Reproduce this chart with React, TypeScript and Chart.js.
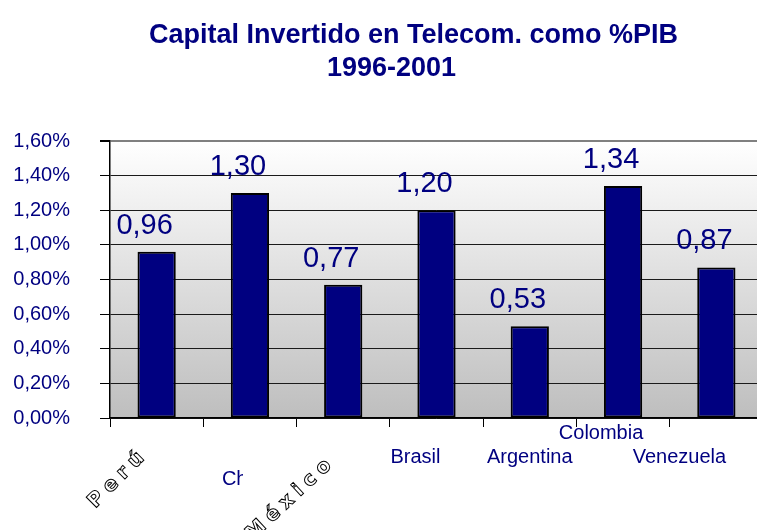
import React, { useEffect, useRef } from "react";
import { Chart, registerables } from "chart.js";

Chart.register(...registerables);

const categories = ["Perú", "Chile", "México", "Brasil", "Argentina", "Colombia", "Venezuela"];
const values = [0.96, 1.30, 0.77, 1.20, 0.53, 1.34, 0.87];
const titleLines = ["Capital Invertido en Telecom. como %PIB", "1996-2001"];
const yMin = 0;
const yMax = 1.6;
const yStep = 0.2;

const NAVY = "#000080";
const FONT = '"Liberation Sans", Arial, sans-serif';

// styling for category labels (offsets relative to category center / axis line)
const labelStyles = [
  { mode: "outline", dx: -38, dy: 60, rot: -45 },
  { mode: "clip", dx: -28, dy: 67, clip: 21 },
  { mode: "outline", dx: -52, dy: 80, rot: -43 },
  { mode: "plain", dx: -21, dy: 45 },
  { mode: "plain", dx: 0, dy: 45 },
  { mode: "plain", dx: -22, dy: 21 },
  { mode: "plain", dx: -37, dy: 45 },
];

const titleStyles = [
  { dx: -23, y: 43 },
  { dx: -45, y: 76 },
];

const fmtPct = (v: number) => v.toFixed(2).replace(".", ",") + "%";
const fmtVal = (v: number) => v.toFixed(2).replace(".", ",");

const bgPlugin = {
  id: "plotBg",
  beforeDraw(chart: any) {
    const { ctx, chartArea: a } = chart;
    const g = ctx.createLinearGradient(0, a.top, 0, a.bottom);
    g.addColorStop(0, "#ffffff");
    g.addColorStop(1, "#bebebe");
    ctx.save();
    ctx.fillStyle = g;
    ctx.fillRect(a.left, a.top, a.right - a.left, a.bottom - a.top);
    ctx.restore();
  },
};

const textPlugin = {
  id: "texts",
  afterDraw(chart: any) {
    const { ctx, chartArea: a } = chart;
    const xs = chart.scales.x;
    const ys = chart.scales.y;
    const mid = (a.left + a.right) / 2;
    ctx.save();
    // title
    ctx.fillStyle = NAVY;
    ctx.font = `bold 27px ${FONT}`;
    ctx.textAlign = "center";
    ctx.textBaseline = "alphabetic";
    titleLines.forEach((t, i) => {
      ctx.fillText(t, mid + titleStyles[i].dx, titleStyles[i].y);
    });
    // data labels
    ctx.font = `29px ${FONT}`;
    const meta = chart.getDatasetMeta(0);
    meta.data.forEach((bar: any, i: number) => {
      ctx.fillText(fmtVal(values[i]), bar.x - 12, bar.y - 18);
    });
    // category labels
    categories.forEach((c, i) => {
      const s: any = labelStyles[i];
      const cx = xs.getPixelForValue(i) + s.dx;
      const cy = ys.bottom + s.dy;
      ctx.save();
      if (s.mode === "outline") {
        ctx.translate(cx, cy);
        ctx.rotate((s.rot * Math.PI) / 180);
        ctx.font = `bold 20px "DejaVu Sans", sans-serif`;
        (ctx as any).letterSpacing = "6px";
        ctx.textAlign = "center";
        ctx.textBaseline = "middle";
        ctx.strokeStyle = "#000";
        ctx.lineWidth = 1;
        ctx.strokeText(c, 0, 0);
      } else if (s.mode === "clip") {
        ctx.beginPath();
        ctx.rect(cx, cy - 30, s.clip, 40);
        ctx.clip();
        ctx.font = `20px ${FONT}`;
        ctx.fillStyle = NAVY;
        ctx.textAlign = "left";
        ctx.fillText(c, cx, cy);
      } else {
        ctx.font = `20px ${FONT}`;
        ctx.fillStyle = NAVY;
        ctx.textAlign = "center";
        ctx.fillText(c, cx, cy);
      }
      ctx.restore();
    });
    ctx.restore();
  },
};

export default function App() {
  const ref = useRef<HTMLCanvasElement>(null);
  useEffect(() => {
    if (!ref.current) return;
    const chart = new Chart(ref.current, {
      type: "bar",
      data: {
        labels: categories,
        datasets: [
          {
            data: values,
            backgroundColor: NAVY,
            borderColor: "#000",
            borderWidth: 2,
            borderSkipped: false,
            barPercentage: 0.41,
            categoryPercentage: 1,
          },
        ],
      },
      options: {
        responsive: false,
        animation: false,
        layout: { padding: { top: 141, right: 12, left: 0, bottom: 0 } },
        plugins: {
          legend: { display: false },
          title: { display: false },
          tooltip: { enabled: false },
        },
        scales: {
          x: {
            afterFit: (s: any) => {
              s.height = 112;
            },
            ticks: { display: false },
            grid: {
              offset: true,
              drawOnChartArea: false,
              drawTicks: true,
              tickLength: 9,
              tickColor: "#000",
              color: "#000",
            },
            border: { display: true, color: "#000", width: 1.5 },
          },
          y: {
            min: yMin,
            max: yMax,
            afterFit: (s: any) => {
              s.width = 110;
            },
            ticks: {
              stepSize: yStep,
              padding: 30,
              color: NAVY,
              font: { family: FONT, size: 20 },
              callback: (v: any) => fmtPct(Number(v)),
            },
            grid: {
              tickLength: 10,
              tickColor: "#000",
              color: (c: any) => (c.tick && Math.abs(c.tick.value - yMax) < 1e-9 ? "#808080" : "#1a1a1a"),
              lineWidth: (c: any) => (c.tick && Math.abs(c.tick.value - yMax) < 1e-9 ? 2 : 1),
            },
            border: { display: true, color: "#000", width: 1.5 },
          },
        },
      },
      plugins: [bgPlugin, textPlugin],
    });
    return () => chart.destroy();
  }, []);
  return (
    <div style={{ position: "absolute", left: 0, top: 0, width: 757, height: 530, overflow: "hidden", background: "#fff" }}>
      <canvas ref={ref} width={775} height={530} style={{ display: "block" }} />
    </div>
  );
}
